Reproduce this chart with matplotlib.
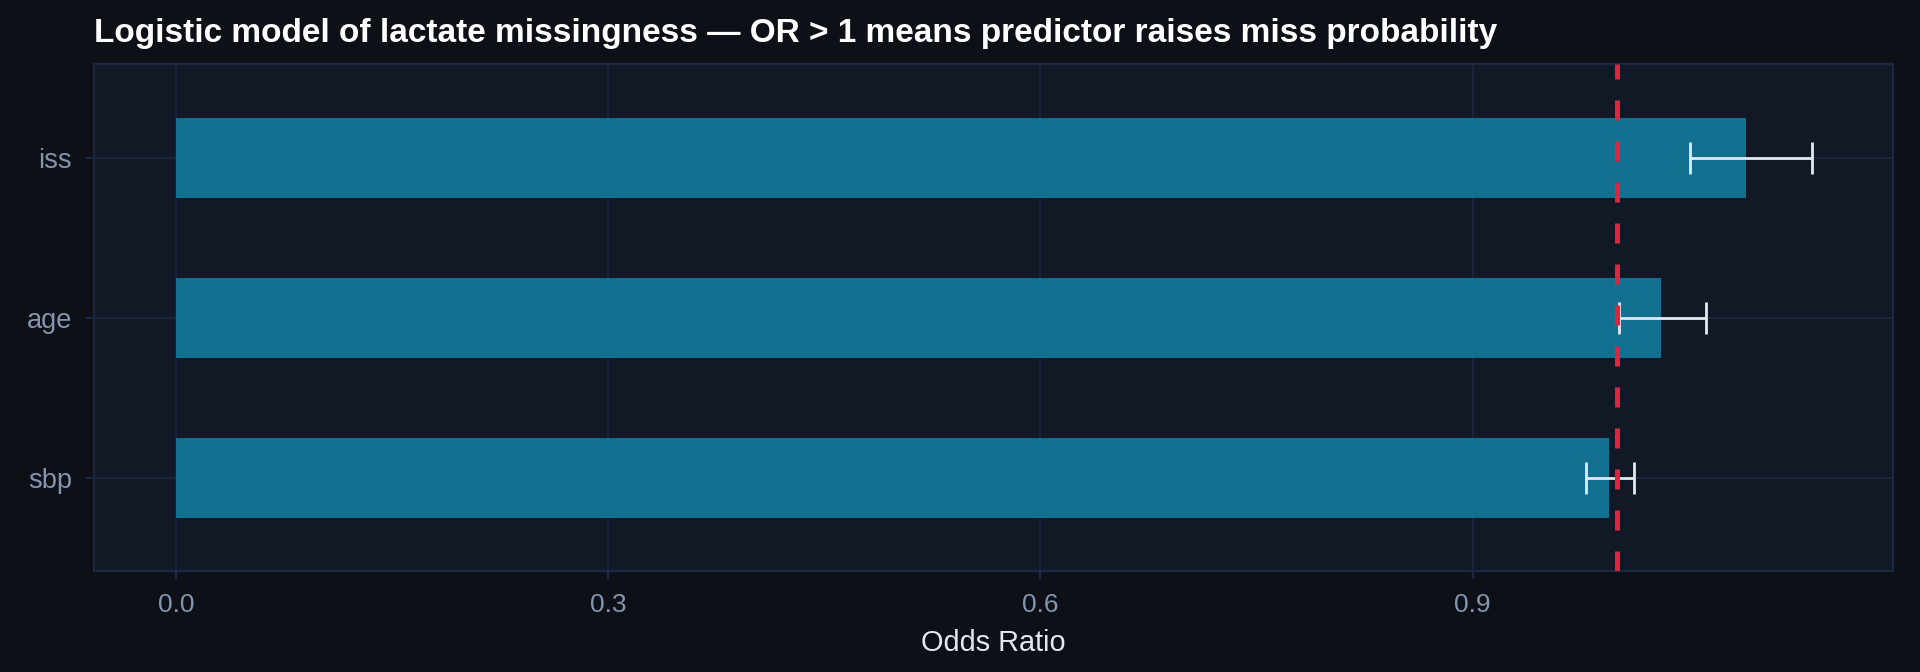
import numpy as np
import matplotlib.pyplot as plt

plt.rcParams['font.family'] = ['Liberation Sans', 'DejaVu Sans']

# valores (orden de abajo hacia arriba)
predictors = ['sbp', 'age', 'iss']
odds_ratio = [0.995, 1.031, 1.090]
ci_low = [0.979, 1.002, 1.051]
ci_high = [1.012, 1.062, 1.136]

fig_bg = '#0d1117'
ax_bg = '#121826'
grid_c = '#1c2841'

fig = plt.figure(figsize=(9.6, 3.36), dpi=200, facecolor=fig_bg)
ax = fig.add_axes([0.049, 0.150, 0.937, 0.755])
ax.set_facecolor(ax_bg)

y = np.arange(len(predictors))
OR = np.array(odds_ratio)
err = np.array([OR - np.array(ci_low), np.array(ci_high) - OR])

ax.barh(y, OR, height=0.5, color='#137090', zorder=2)
ax.errorbar(OR, y, xerr=err, fmt='none', ecolor='#e2e8f0',
            elinewidth=1.0, capsize=5.8, capthick=1.0, zorder=3)
ax.axvline(1.0, color='#dc2640', linewidth=1.8, dashes=(4, 4.2), zorder=4)

ax.set_yticks(y)
ax.set_yticklabels(predictors)
ax.set_xticks([0.0, 0.3, 0.6, 0.9])
ax.set_xlim(-0.057, 1.192)
ax.set_ylim(-0.58, 2.59)

ax.grid(True, color=grid_c, linewidth=0.6, zorder=0)
ax.set_axisbelow(True)
for s in ax.spines.values():
    s.set_color(grid_c)
    s.set_linewidth(0.8)
ax.tick_params(colors=grid_c, labelcolor='#8494ad',
               length=3, width=0.8, pad=5)
ax.tick_params(axis='x', labelsize=9.5)
ax.tick_params(axis='y', labelsize=9.8)

ax.set_xlabel('Odds Ratio', color='#e2e8f0', fontsize=10.4, labelpad=4)
ax.set_title('Logistic model of lactate missingness \u2014 OR > 1 means predictor raises miss probability',
             loc='left', color='#ffffff', fontsize=12, fontweight='bold', pad=8)

fig.savefig('out.png', dpi=200, facecolor=fig_bg)
